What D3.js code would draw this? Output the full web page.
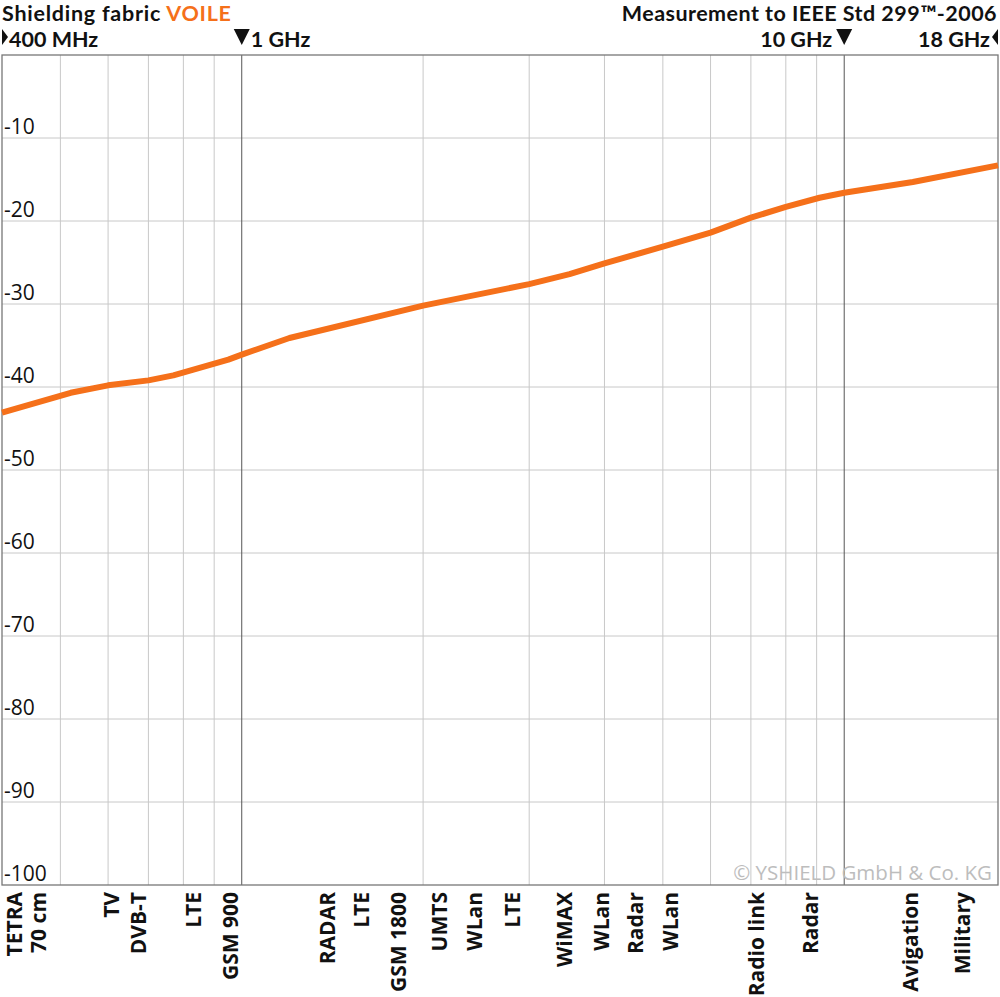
<!DOCTYPE html>
<html><head><meta charset="utf-8">
<script src="https://cdn.jsdelivr.net/npm/d3@7"></script>
<style>
html,body{margin:0;padding:0;background:#fff;}
svg{display:block;font-family:"Open Sans",sans-serif;}
.hdr{font-family:Lato,"Open Sans",sans-serif;}
</style></head>
<body>
<svg id="chart" width="1000" height="997"></svg>
<script>
// ---- data ----
const freqGHz = [0.4, 0.52, 0.6, 0.7, 0.77, 0.95, 1.0, 1.2, 2.0, 3.0, 3.5, 4, 5, 6, 7, 8, 9.1, 10, 13, 18];
const attenuationDb = [-43.1, -40.7, -39.8, -39.2, -38.6, -36.7, -36.1, -34.1, -30.2, -27.6, -26.4, -25.1, -23.1, -21.4, -19.6, -18.3, -17.2, -16.6, -15.3, -13.3];
const gridFreqs = [0.5, 0.6, 0.7, 0.8, 0.9, 2, 3, 4, 5, 6, 7, 8, 9];
const majorFreqs = [1, 10];
const yTicks = [-10, -20, -30, -40, -50, -60, -70, -80, -90, -100];
const bandLabels = ["TETRA", "70 cm", "TV", "DVB-T", "LTE", "GSM 900", "RADAR", "LTE", "GSM 1800", "UMTS", "WLan", "LTE", "WiMAX", "WLan", "Radar", "WLan", "Radio link", "Radar", "Avigation", "Military"];
const bandFreqs = [0.42, 0.46, 0.607, 0.673, 0.83, 0.956, 1.39, 1.58, 1.82, 2.13, 2.43, 2.81, 3.43, 3.96, 4.51, 5.14, 7.14, 8.78, 12.86, 15.7];
const titleLeft = "Shielding fabric ";
const titleMaterial = "VOILE";
const titleRight = "Measurement to IEEE Std 299™-2006";
const copyright = "© YSHIELD GmbH & Co. KG";

const ORANGE = "#f5701a";
const svg = d3.select("#chart");
const L = 2, R = 998, T = 55, B = 885;
const x = d3.scaleLog().domain([0.4, 18]).range([L, R]);
const y = d3.scaleLinear().domain([0, -100]).range([T, B]);

// horizontal grid
svg.append("g").selectAll("line").data(yTicks.slice(0, -1)).join("line")
  .attr("x1", L).attr("x2", R).attr("y1", d => y(d)).attr("y2", d => y(d))
  .attr("stroke", "#c8c8c8").attr("stroke-width", 1);
// vertical grid
svg.append("g").selectAll("line").data(gridFreqs).join("line")
  .attr("x1", d => x(d)).attr("x2", d => x(d)).attr("y1", T).attr("y2", B)
  .attr("stroke", "#c8c8c8").attr("stroke-width", 1);
svg.append("g").selectAll("line").data(majorFreqs).join("line")
  .attr("x1", d => x(d)).attr("x2", d => x(d)).attr("y1", T).attr("y2", B)
  .attr("stroke", "#555").attr("stroke-width", 1);
// frame
svg.append("rect").attr("x", L).attr("y", T).attr("width", R - L).attr("height", B - T)
  .attr("fill", "none").attr("stroke", "#777").attr("stroke-width", 1.3);

// y labels
svg.append("g").selectAll("text").data(yTicks).join("text")
  .attr("x", 4).attr("y", d => y(d) - 4)
  .attr("font-size", 21).attr("fill", "#111").text(d => d);

// copyright
svg.append("text").attr("x", 992).attr("y", 880).attr("text-anchor", "end")
  .attr("font-size", 20.5).attr("fill", "#bdbdbd").text(copyright);

// curve
const pts = freqGHz.map((f, i) => [f, attenuationDb[i]]);
svg.append("path").datum(pts)
  .attr("d", d3.line().x(d => x(d[0])).y(d => y(d[1])))
  .attr("fill", "none").attr("stroke", ORANGE).attr("stroke-width", 6).attr("stroke-linejoin", "round");

// header
const HF = 21.5;
const t1 = svg.append("text").attr("class", "hdr").attr("x", 2).attr("y", 21).attr("font-size", HF)
  .attr("font-weight", 700).attr("letter-spacing", 0.75).attr("fill", "#111");
t1.append("tspan").text(titleLeft);
t1.append("tspan").attr("fill", ORANGE).text(titleMaterial);
svg.append("text").attr("class", "hdr").attr("x", 997).attr("y", 21).attr("text-anchor", "end")
  .attr("font-size", HF).attr("font-weight", 700).attr("letter-spacing", 0.45).attr("fill", "#111").text(titleRight);

// frequency markers
const mk = svg.append("g").attr("class", "hdr").attr("font-size", HF).attr("font-weight", 700).attr("fill", "#111");
const xa = x(0.4), xb = x(1), xc = x(10), xd = x(18);
mk.append("path").attr("d", `M${xa},29 L${xa + 6},37 L${xa},45 Z`);
mk.append("text").attr("x", xa + 7).attr("y", 46.5).text("400 MHz");
mk.append("path").attr("d", `M${xb - 8},29 L${xb + 8},29 L${xb},45 Z`);
mk.append("text").attr("x", xb + 9).attr("y", 46.5).text("1 GHz");
mk.append("path").attr("d", `M${xc - 8},29 L${xc + 8},29 L${xc},45 Z`);
mk.append("text").attr("x", xc - 12).attr("y", 46.5).attr("text-anchor", "end").text("10 GHz");
mk.append("path").attr("d", `M${xd},29 L${xd - 6},37 L${xd},45 Z`);
mk.append("text").attr("x", xd - 8).attr("y", 46.5).attr("text-anchor", "end").text("18 GHz");

// band labels
svg.append("g").selectAll("text").data(bandLabels).join("text")
  .attr("transform", (d, i) => `translate(${x(bandFreqs[i])},892) rotate(-90)`)
  .attr("text-anchor", "end").attr("dy", "0.36em")
  .attr("font-size", 21).attr("font-weight", 700).attr("fill", "#111").text(d => d);
</script>
</body></html>
